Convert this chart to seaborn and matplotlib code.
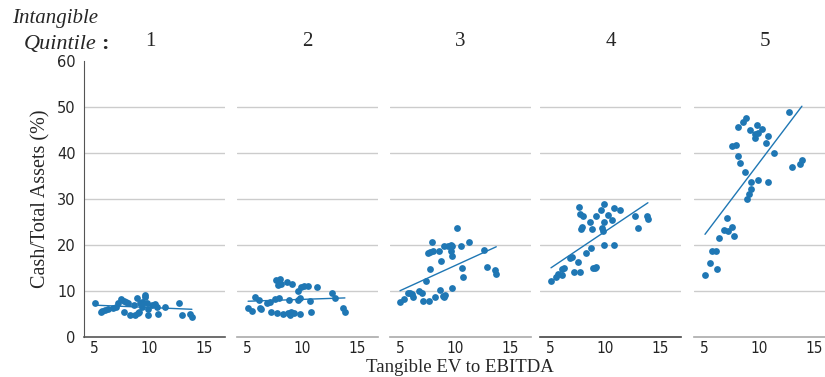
import matplotlib
matplotlib.use("Agg")
import matplotlib.pyplot as plt
from matplotlib import font_manager as fm
import seaborn as sns
import numpy as np
import pandas as pd

# ---------------- data ----------------
quintiles = ["1", "2", "3", "4", "5"]

q1_x = [5.1, 5.6, 5.7, 6.0, 6.3, 6.75, 7.0, 7.2, 7.5, 7.75, 7.95, 8.1, 7.7, 8.6, 8.9, 8.3, 8.7, 9.0,
        9.1, 9.2, 9.35, 9.4, 9.6, 9.6, 9.9, 9.9, 9.8, 10.25, 10.5, 10.7, 10.85, 11.45, 12.75, 13.0, 13.7, 13.9]
q1_y = [7.3, 5.4, 5.7, 5.9, 6.0, 6.2, 6.6, 7.3, 8.3, 7.9, 7.7, 7.5, 5.4, 7.0, 8.4, 4.8, 4.8, 5.2,
        5.5, 7.3, 6.6, 7.7, 9.1, 8.6, 4.8, 6.1, 7.5, 7.0, 7.2, 6.6, 5.1, 6.6, 7.3, 4.8, 5.1, 4.4]

q2_x = [5.1, 5.5, 5.7, 6.1, 6.15, 6.3, 6.85, 7.05, 7.5, 7.9, 7.2, 7.7, 7.6, 8.0, 7.8, 8.1, 8.6, 9.1, 8.3,
        8.7, 9.0, 9.25, 8.9, 8.8, 9.8, 9.6, 9.8, 9.6, 9.9, 10.2, 10.5, 10.7, 10.85, 11.4, 12.7, 13.0, 13.75, 13.9]
q2_y = [6.4, 5.7, 8.7, 8.0, 6.3, 6.0, 7.3, 7.7, 8.2, 8.5, 5.4, 5.2, 12.5, 12.6, 11.2, 11.5, 12.0, 11.6, 5.1,
        5.2, 5.4, 5.2, 4.8, 8.0, 5.1, 8.1, 8.5, 10.1, 10.8, 11.0, 11.1, 7.9, 5.5, 10.9, 9.5, 8.5, 6.2, 5.5]

q3_x = [5.0, 5.4, 5.7, 5.9, 6.2, 6.1, 6.75, 7.0, 7.1, 7.6, 7.4, 7.7, 8.2, 8.6, 8.9, 9.0, 9.1, 9.7, 7.5, 7.7,
        8.0, 7.9, 8.5, 8.7, 9.0, 9.4, 9.6, 9.7, 9.65, 9.7, 10.2, 10.5, 10.6, 10.7, 11.3, 12.6, 12.9, 13.6, 13.75]
q3_y = [7.7, 8.2, 9.6, 9.6, 8.6, 9.4, 10.1, 9.6, 7.8, 7.8, 12.2, 14.8, 8.8, 10.2, 9.0, 8.8, 9.2, 10.7, 18.2, 18.5,
        18.8, 20.7, 18.8, 16.6, 19.7, 19.8, 20.0, 19.7, 18.6, 17.7, 23.6, 19.8, 14.9, 13.0, 20.7, 19.0, 15.2, 14.6, 13.8]

q4_x = [5.09, 5.55, 5.76, 6.1, 6.1, 6.3, 6.8, 7.0, 7.2, 7.7, 7.5, 8.3, 8.7, 8.94, 9.1, 9.2, 9.9, 10.85, 7.6, 7.7,
        8.0, 8.6, 7.8, 7.9, 8.85, 9.2, 9.6, 9.9, 9.9, 9.75, 9.85, 10.3, 10.6, 10.8, 11.4, 12.7, 13.0, 13.8, 13.9]
q4_y = [12.2, 13.1, 13.6, 13.4, 14.8, 15.1, 17.1, 17.5, 14.2, 14.2, 16.2, 18.2, 19.3, 14.9, 15.0, 15.3, 20.0, 19.9, 28.2, 26.7,
        26.3, 25.1, 23.5, 24.0, 23.4, 26.2, 27.6, 29.0, 25.1, 23.7, 23.1, 26.5, 25.4, 28.0, 27.6, 26.3, 23.6, 26.3, 25.7]

q5_x = [5.09, 5.55, 6.15, 5.7, 6.1, 6.36, 7.1, 6.85, 7.2, 7.5, 7.7, 7.57, 7.9, 8.06, 8.3, 8.7, 8.06, 8.57, 8.8,
        9.2, 9.8, 10.3, 9.9, 9.6, 9.6, 10.8, 10.6, 11.4, 12.7, 13.0, 13.75, 13.9, 9.3, 9.9, 10.85, 9.25, 9.06, 8.9]
q5_y = [13.5, 16.0, 14.8, 18.8, 18.8, 21.6, 25.9, 23.2, 23.0, 24.0, 22.0, 41.6, 41.7, 39.3, 37.9, 35.9, 45.7, 46.8, 47.7,
        45.0, 46.1, 45.2, 44.4, 44.1, 43.3, 43.7, 42.2, 39.9, 48.9, 37.0, 37.7, 38.4, 33.8, 34.1, 33.6, 32.1, 31.1, 29.9]

y_ticks = [0, 10, 20, 30, 40, 50, 60]
x_ticks = [5, 10, 15]

xs = [q1_x, q2_x, q3_x, q4_x, q5_x]
ys = [q1_y, q2_y, q3_y, q4_y, q5_y]
frames = [pd.DataFrame({"ev": x, "cash": y, "q": q}) for x, y, q in zip(xs, ys, quintiles)]
df = pd.concat(frames, ignore_index=True)

# ---------------- figure ----------------
sns.set_style("white")
W, H = 825, 377
fig = plt.figure(figsize=(W / 100, H / 100), dpi=100)

# condensed font for x tick labels if available
names = {f.name for f in fm.fontManager.ttflist}
cond_stretch = {f.stretch for f in fm.fontManager.ttflist if f.name == "DejaVu Sans"}
if "Liberation Sans Narrow" in names:
    xtick_font = dict(fontfamily="Liberation Sans Narrow")
elif any(s in ("condensed", 300, "semi-condensed") for s in cond_stretch):
    xtick_font = dict(fontfamily="DejaVu Sans", fontstretch="condensed")
else:
    xtick_font = dict(fontfamily="DejaVu Sans")

blue = "#1f77b4"
serif = "Liberation Serif"
five_px = [94, 247, 400, 550, 704]
unit = 11.0
xlim = (4.1, 16.9)
ax_bottom = (H - 337) / H
ax_height = 276 / H
spine_colors = ["#555555", "#aaaaaa", "#aaaaaa", "#444444", "#aaaaaa"]

for i, q in enumerate(quintiles):
    left_px = five_px[i] - (5 - xlim[0]) * unit
    width_px = (xlim[1] - xlim[0]) * unit
    ax = fig.add_axes([left_px / W, ax_bottom, width_px / W, ax_height])
    sub = df[df["q"] == q]
    ax.set_axisbelow(True)
    ax.yaxis.grid(True, color="#cccccc", lw=1.0)
    sns.regplot(data=sub, x="ev", y="cash", ax=ax, ci=None, color=blue,
                scatter_kws={"s": 24, "alpha": 1, "linewidths": 0},
                line_kws={"lw": 1.0})
    ax.set_xlim(*xlim)
    ax.set_ylim(0, 60)
    ax.set_yticks(y_ticks)
    ax.set_xticks(x_ticks)
    gl = ax.get_ygridlines()
    gl[0].set_visible(False)
    gl[-1].set_visible(False)
    ax.set_xlabel("")
    ax.set_ylabel("")
    for s in ["top", "right"]:
        ax.spines[s].set_visible(False)
    ax.spines["bottom"].set_color(spine_colors[i])
    ax.spines["bottom"].set_linewidth(1.2)
    ax.tick_params(axis="x", length=0, pad=3)
    for lab in ax.get_xticklabels():
        lab.set(**xtick_font)
        lab.set_fontsize(11)
        lab.set_color("#222222")
    if i == 0:
        ax.spines["left"].set_color("#555555")
        ax.tick_params(axis="y", length=4, color="#555555", pad=2, labelsize=10.5)
    else:
        ax.spines["left"].set_visible(False)
        ax.tick_params(axis="y", length=0, labelleft=False)
    ax.text(0.5 - 4 / width_px if i == 0 else 0.5, 1.0 + 20 / 276, q, transform=ax.transAxes,
            ha="center", va="center", fontfamily=serif, fontsize=15)

fig.text(12 / W, 1 - 18 / H, "Intangible", fontfamily=serif, fontstyle="italic",
         fontsize=15, ha="left", va="center")
fig.text(97 / W, 1 - 44 / H, "Quintile", fontfamily=serif, fontstyle="italic",
         fontsize=16, ha="right", va="center")
fig.text(101 / W, 1 - 44 / H, ":", fontfamily=serif, fontweight="bold",
         fontsize=16, ha="left", va="center")

fig.text(41 / W, 1 - 199 / H, "Cash/Total Assets (%)", fontfamily=serif, fontsize=14.5,
         rotation=90, ha="center", va="center")
fig.text(460 / W, 1 - 368 / H, "Tangible EV to EBITDA", fontfamily=serif, fontsize=13.5,
         ha="center", va="center")

fig.savefig("out.png", dpi=100)
